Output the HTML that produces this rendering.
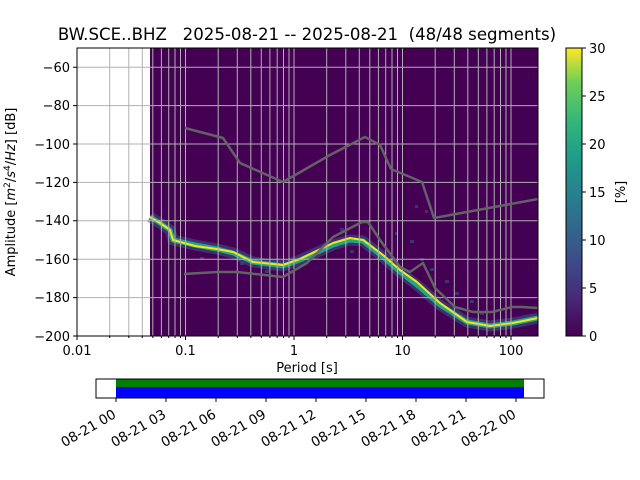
<!DOCTYPE html>
<html><head><meta charset="utf-8"><style>
body{margin:0;background:#fff;}
svg{display:block;font-family:"DejaVu Sans","Liberation Sans",sans-serif;}
</style></head><body>
<svg width="640" height="480" viewBox="0 0 640 480" xmlns="http://www.w3.org/2000/svg">
<defs>
<linearGradient id="vir" x1="0" y1="1" x2="0" y2="0">
<stop offset="0" stop-color="#440154"/><stop offset="0.13" stop-color="#482878"/>
<stop offset="0.25" stop-color="#3e4989"/><stop offset="0.38" stop-color="#31688e"/>
<stop offset="0.5" stop-color="#26828e"/><stop offset="0.63" stop-color="#1f9e89"/>
<stop offset="0.75" stop-color="#35b779"/><stop offset="0.88" stop-color="#6ece58"/>
<stop offset="1" stop-color="#fde725"/>
</linearGradient>
<clipPath id="ax"><rect x="77" y="48" width="461" height="288"/></clipPath>
</defs>
<text x="307" y="40" font-size="16.6" text-anchor="middle" style="white-space:pre">BW.SCE..BHZ   2025-08-21 -- 2025-08-21  (48/48 segments)</text>
<rect x="150" y="48" width="388" height="288" fill="#440154"/>
<g clip-path="url(#ax)">
<g fill="#3b528b" opacity="0.6">
<rect x="340" y="228" width="4" height="3"/><rect x="350" y="250" width="4" height="3"/><rect x="395" y="232" width="3" height="3"/>
<rect x="410" y="240" width="4" height="3"/><rect x="420" y="258" width="4" height="3"/><rect x="430" y="268" width="4" height="3"/>
<rect x="445" y="280" width="4" height="3"/><rect x="455" y="292" width="4" height="3"/><rect x="470" y="300" width="4" height="3"/>
<rect x="425" y="210" width="3" height="3"/><rect x="415" y="205" width="3" height="3"/><rect x="200" y="257" width="4" height="3"/>
<rect x="240" y="262" width="4" height="3"/><rect x="265" y="270" width="4" height="3"/><rect x="480" y="312" width="4" height="3"/>
</g>
<polyline fill="none" stroke="#3d5f8c" stroke-width="11" stroke-linejoin="round" opacity="0.5"
points="150,217 160,223 170,230 173,240 195,245 217,249 233,253 253,262 283,266 300,260 333,245 350,240 363,241 383,257 400,272 417,285 440,305 467,322 490,326 513,323 538,318"/>
<polyline fill="none" stroke="#21a685" stroke-width="5" stroke-linejoin="round"
points="150,217 160,223 170,230 173,240 195,245 217,249 233,253 253,262 283,266 300,260 333,245 350,240 363,241 383,257 400,272 417,285 440,305 467,322 490,326 513,323 538,318"/>
<polyline fill="none" stroke="#f2e51d" stroke-width="2" stroke-linejoin="round"
points="150,217 160,223 170,230 173,240 195,246 217,249 233,252 253,262 283,265 300,259 333,243 350,238 363,240 383,255 400,270 417,282 440,303 467,322 490,326 513,323 538,318"/>
</g>
<path fill="none" stroke="#b0b0b0" stroke-width="1" d="M109.7,48V336M128.8,48V336M142.3,48V336M152.8,48V336M161.4,48V336M168.7,48V336M175,48V336M180.5,48V336M185.5,48V336M218.2,48V336M237.3,48V336M250.8,48V336M261.3,48V336M269.9,48V336M277.2,48V336M283.5,48V336M289,48V336M294,48V336M326.7,48V336M345.8,48V336M359.3,48V336M369.8,48V336M378.4,48V336M385.7,48V336M392,48V336M397.5,48V336M402.5,48V336M435.2,48V336M454.3,48V336M467.8,48V336M478.3,48V336M486.9,48V336M494.2,48V336M500.5,48V336M506,48V336M511,48V336M77,67.2H538M77,105.6H538M77,144H538M77,182.4H538M77,220.8H538M77,259.2H538M77,297.6H538"/>
<g fill="none" stroke="#666" stroke-width="2.5" stroke-linejoin="round" opacity="0.95">
<polyline points="185,128 223,138 240,163 283,182 330,155 365,137 380,145 391,169 422,182 434,218 538,199"/>
<polyline points="184,274 218,272 237,272 283,277 307,263 333,237 362,222 368,222 380,240 400,267 410,272 423,263 435,288 455,307 473,312 492,312 512,307 522,307 538,308"/>
</g>
<rect x="77" y="48" width="461" height="288" fill="none" stroke="#000" stroke-width="1"/>
<g stroke="#000" stroke-width="1">
<path d="M77,336v4M185.5,336v4M294,336v4M402.5,336v4M511,336v4"/>
<path d="M109.7,336v2M128.8,336v2M142.3,336v2M152.8,336v2M161.4,336v2M168.7,336v2M175,336v2M180.5,336v2M218.2,336v2M237.3,336v2M250.8,336v2M261.3,336v2M269.9,336v2M277.2,336v2M283.5,336v2M289,336v2M326.7,336v2M345.8,336v2M359.3,336v2M369.8,336v2M378.4,336v2M385.7,336v2M392,336v2M397.5,336v2M435.2,336v2M454.3,336v2M467.8,336v2M478.3,336v2M486.9,336v2M494.2,336v2M500.5,336v2M506,336v2"/>
<path d="M77,67.2h-4M77,105.6h-4M77,144h-4M77,182.4h-4M77,220.8h-4M77,259.2h-4M77,297.6h-4M77,336h-4"/>
</g>
<g font-size="13" text-anchor="end">
<text x="70" y="72">−60</text><text x="70" y="110">−80</text><text x="70" y="149">−100</text><text x="70" y="187">−120</text>
<text x="70" y="225">−140</text><text x="70" y="264">−160</text><text x="70" y="302">−180</text><text x="70" y="341">−200</text>
</g>
<g font-size="13" text-anchor="middle">
<text x="77" y="355">0.01</text><text x="185.5" y="355">0.1</text><text x="294" y="355">1</text><text x="402.5" y="355">10</text><text x="511" y="355">100</text>
<text x="307" y="372">Period [s]</text>
</g>
<text transform="translate(15,192) rotate(-90)" font-size="13" text-anchor="middle">Amplitude [<tspan font-style="italic">m</tspan><tspan font-size="9" dy="-5">2</tspan><tspan dy="5">/</tspan><tspan font-style="italic">s</tspan><tspan font-size="9" dy="-5">4</tspan><tspan dy="5">/</tspan><tspan font-style="italic">Hz</tspan>] [dB]</text>
<rect x="566" y="48" width="16" height="288" fill="url(#vir)" stroke="#000" stroke-width="1"/>
<g stroke="#000"><path d="M582,48h4M582,96h4M582,144h4M582,192h4M582,240h4M582,288h4M582,336h4"/></g>
<g font-size="13">
<text x="589" y="53">30</text><text x="589" y="101">25</text><text x="589" y="149">20</text><text x="589" y="197">15</text>
<text x="589" y="245">10</text><text x="589" y="293">5</text><text x="589" y="341">0</text>
</g>
<text transform="translate(625,192) rotate(-90)" font-size="13" text-anchor="middle">[%]</text>
<rect x="116" y="379" width="408" height="8" fill="#008000"/>
<rect x="116" y="387" width="408" height="11" fill="#0000ff"/>
<rect x="96" y="379" width="448" height="19" fill="none" stroke="#000" stroke-width="1"/>
<g stroke="#000"><path d="M116,398v4M166,398v4M216,398v4M266,398v4M316,398v4M366,398v4M416,398v4M466,398v4M516,398v4"/></g>
<g font-size="13.5" text-anchor="end">
<text transform="translate(117,417) rotate(-30)">08-21 00</text>
<text transform="translate(167,417) rotate(-30)">08-21 03</text>
<text transform="translate(217,417) rotate(-30)">08-21 06</text>
<text transform="translate(267,417) rotate(-30)">08-21 09</text>
<text transform="translate(317,417) rotate(-30)">08-21 12</text>
<text transform="translate(367,417) rotate(-30)">08-21 15</text>
<text transform="translate(417,417) rotate(-30)">08-21 18</text>
<text transform="translate(467,417) rotate(-30)">08-21 21</text>
<text transform="translate(517,417) rotate(-30)">08-22 00</text>
</g>
</svg>
</body></html>
